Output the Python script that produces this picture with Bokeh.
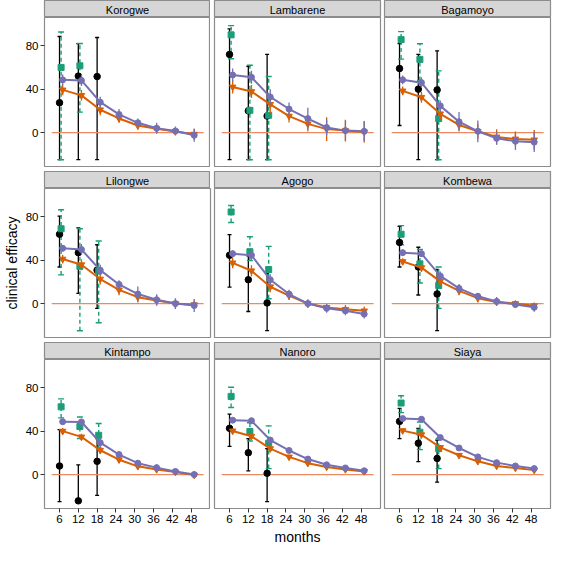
from bokeh.plotting import figure
from bokeh.layouts import gridplot
from bokeh.models import ColumnDataSource, Whisker, TeeHead, FixedTicker, Range1d
from bokeh.core.properties import value
from bokeh.embed import file_html
from bokeh.resources import INLINE

sites = ["Korogwe", "Lambarene", "Bagamoyo",
         "Lilongwe", "Agogo", "Kombewa",
         "Kintampo", "Nanoro", "Siaya"]

obs_months = [6, 12, 18]
trial_months = [6.5, 12.5, 18.5]
model_months = [7, 13, 19, 25, 31, 37, 43, 49]
x_ticks = [6, 12, 18, 24, 30, 36, 42, 48]
y_ticks = [0, 40, 80]

# observed efficacy (black)
obs_mid = {
    "Korogwe": [27.5, 52, 51.6], "Lambarene": [72, 20, 15.2], "Bagamoyo": [59, 40, 39.3],
    "Lilongwe": [63.9, 46.9, 30.8], "Agogo": [44.5, 22, 0.6], "Kombewa": [56.3, 33.7, 8.8],
    "Kintampo": [7.9, -24.2, 12.2], "Nanoro": [42.6, 20.1, 1.2], "Siaya": [49, 28.9, 14.9],
}
obs_lo = {
    "Korogwe": [-25, -25, -25], "Lambarene": [-25, -25, -25], "Bagamoyo": [6.5, -25, -25],
    "Lilongwe": [33.7, 9.4, -4.4], "Agogo": [15.2, -7.3, -25], "Kombewa": [33.7, 7.9, -25],
    "Kintampo": [-25, -25, -19.2], "Nanoro": [25.9, 3.5, -25], "Siaya": [33.2, 12, -7],
}
obs_hi = {
    "Korogwe": [88.5, 82, 87.6], "Lambarene": [95.5, 61, 72], "Bagamoyo": [82, 72, 75.3],
    "Lilongwe": [80.6, 69.7, 54.2], "Agogo": [63.6, 44, 27.8], "Kombewa": [71.2, 51.9, 31.4],
    "Kintampo": [41.4, 9, 33.2], "Nanoro": [55.7, 33.2, 23.9], "Siaya": [61, 42.6, 31.8],
}

# trial estimates (green, dashed); None where absent
trial_mid = {
    "Korogwe": [60, 61.5, None], "Lambarene": [90, 20.5, 16], "Bagamoyo": [85.6, 67.4, 12.9],
    "Lilongwe": [68.9, 34.3, 29.9], "Agogo": [84.4, 47.8, 31.4], "Kombewa": [63.9, 36.6, 16.7],
    "Kintampo": [62.4, 44.3, 36.2], "Nanoro": [72, 39.7, 28.9], "Siaya": [65.9, 39, 23.9],
}
trial_lo = {
    "Korogwe": [-25, 18.8, None], "Lambarene": [68, -25, -25], "Bagamoyo": [67.7, 48, -25],
    "Lilongwe": [26.4, -25, -17.6], "Agogo": [74.7, 39.6, 4.4], "Kombewa": [54.2, 19, -4.4],
    "Kintampo": [52.2, 33.2, 24.5], "Nanoro": [61.8, 30.9, 5.5], "Siaya": [57.1, 23, 5.5],
}
trial_hi = {
    "Korogwe": [92.6, 82, None], "Lambarene": [98.5, 62, 51.6], "Bagamoyo": [93, 81.8, 56.8],
    "Lilongwe": [86.4, 68.9, 57.7], "Agogo": [90.3, 61.5, 52.7], "Kombewa": [71.8, 49.8, 33.7],
    "Kintampo": [69.7, 53, 47], "Nanoro": [80.5, 47.8, 44.9], "Siaya": [72.6, 48.4, 33.2],
}

# model A (purple)
modA_mid = {
    "Korogwe": [48.6, 48, 28, 16.7, 9, 4, 1.5, -2.5],
    "Lambarene": [53, 51, 32.8, 21.7, 12.9, 4.7, 1.8, 1.2],
    "Bagamoyo": [48.6, 46, 24.6, 10, 1.2, -5.3, -8, -8.8],
    "Lilongwe": [51, 49.8, 30.8, 17.6, 8.8, 3.5, 0, -1.8],
    "Agogo": [46, 44.5, 22, 8.8, 0, -4.4, -6.7, -9.7],
    "Kombewa": [46.9, 46, 25.5, 14, 6.7, 2, -0.9, -3.5],
    "Kintampo": [48.7, 48.4, 29.4, 18.4, 10.5, 6.4, 2.9, 0],
    "Nanoro": [50.1, 49.6, 31.8, 22.2, 14.3, 9, 6.1, 3.5],
    "Siaya": [51.6, 51, 34.1, 24.5, 16.3, 11, 7.9, 5.5],
}
modA_err = {
    "Korogwe": [5, 5, 5, 5, 4, 5, 4, 6],
    "Lambarene": [6, 6, 7, 6, 10, 7, 9, 9],
    "Bagamoyo": [4, 5, 5, 9, 10, 6, 8, 9],
    "Lilongwe": [3, 5, 5, 4, 7, 5, 5, 6],
    "Agogo": [3, 5, 5, 4, 4, 4, 4, 4],
    "Kombewa": [3, 3, 4, 4, 3, 4, 3, 4],
    "Kintampo": [2, 3, 4, 3, 3, 3, 2, 3],
    "Nanoro": [2, 2, 2, 2, 2, 2, 2, 2],
    "Siaya": [2, 2, 2, 2, 2, 2, 2, 2],
}

# model B (orange)
modB_mid = {
    "Korogwe": [39.3, 34.3, 21, 13, 6.5, 3.5, 1, -1.5],
    "Lambarene": [42, 37.8, 26, 15.2, 8, 3.2, 1.8, 0.6],
    "Bagamoyo": [38.4, 32.5, 17.3, 7, 1.2, -4, -5.9, -6.7],
    "Lilongwe": [41, 35.8, 22.6, 12.6, 5.9, 2.9, 0, -1],
    "Agogo": [37.5, 30.2, 15.5, 7.3, 0, -3.5, -5.3, -6.7],
    "Kombewa": [38.7, 33.1, 20.5, 11.7, 5, 1.5, 0, -2],
    "Kintampo": [40, 34.7, 22.4, 13.7, 7.6, 4.7, 2.3, -0.5],
    "Nanoro": [40.2, 35.3, 23.9, 16.3, 10.5, 7, 4.7, 2.9],
    "Siaya": [40.5, 36.7, 25, 17.8, 12.2, 7.9, 6.1, 4.1],
}
modB_err = {
    "Korogwe": [5, 5, 5, 4, 4, 4, 3, 5],
    "Lambarene": [6, 6, 8, 6, 7, 11, 10, 10],
    "Bagamoyo": [4, 5, 5, 5, 7, 7, 7, 9],
    "Lilongwe": [4, 5, 5, 5, 5, 5, 4, 4],
    "Agogo": [5, 5, 5, 4, 3, 3, 4, 4],
    "Kombewa": [3, 4, 4, 4, 4, 3, 3, 3],
    "Kintampo": [3, 3, 3, 3, 3, 2, 2, 2],
    "Nanoro": [2, 2, 2, 2, 2, 2, 2, 2],
    "Siaya": [2, 2, 2, 2, 2, 2, 2, 2],
}

zero_line_x = [3.5, 52]

BLACK = "#000000"
GREEN = "#1B9E77"
ORANGE = "#D95F02"
PURPLE = "#7570B3"
ZERO = "#EE8A60"
BORDER = "#8C8C8C"
STRIP = "#D6D6D6"
FONT = "Liberation Sans"

FW, FH, SH = 166, 149, 17


def make_strip(site, col):
    s = figure(output_backend="svg", toolbar_location=None,
               frame_width=FW, frame_height=SH,
               x_range=Range1d(0, 1), y_range=Range1d(0, 1),
               x_axis_location=None, y_axis_location=None)
    s.min_border_left = 42 if col == 0 else 2
    s.min_border_right = 2
    s.min_border_top = 0
    s.min_border_bottom = 0
    s.background_fill_color = STRIP
    s.border_fill_color = "white"
    s.outline_line_color = BORDER
    s.outline_line_width = 1.2
    s.xgrid.visible = False
    s.ygrid.visible = False
    s.text(x=[0.5], y=[0.45], text=[site], text_align="center",
           text_baseline="middle", text_font=value(FONT),
           text_font_size="11px", text_color="black")
    return s


def make_panel(site, row, col):
    p = figure(output_backend="svg", toolbar_location=None,
               frame_width=FW, frame_height=FH,
               x_range=Range1d(1.2, 54.2), y_range=Range1d(-31.25, 106))
    p.min_border_left = 42 if col == 0 else 2
    p.min_border_right = 2
    p.min_border_top = 0
    p.min_border_bottom = 38 if row == 2 else 5
    p.background_fill_color = "white"
    p.border_fill_color = "white"
    p.outline_line_color = BORDER
    p.outline_line_width = 1.2
    p.xgrid.visible = False
    p.ygrid.visible = False

    for ax in (p.xaxis[0], p.yaxis[0]):
        ax.axis_line_color = None
        ax.minor_tick_line_color = None
        ax.major_tick_in = 0
        ax.major_tick_out = 4
        ax.major_tick_line_color = "#333333"
        ax.major_label_text_font = FONT
        ax.major_label_text_font_size = "11.5px"
        ax.major_label_text_color = "black"
        ax.major_label_standoff = 2
        ax.axis_label_text_font = FONT
        ax.axis_label_text_font_size = "14px"
        ax.axis_label_text_font_style = "normal"
        ax.axis_label_text_color = "black"
        ax.axis_label_standoff = 3
    p.xaxis.ticker = FixedTicker(ticks=x_ticks)
    p.yaxis.ticker = FixedTicker(ticks=y_ticks)
    if row != 2:
        p.xaxis.visible = False
    if col != 0:
        p.yaxis.visible = False
    if row == 2 and col == 1:
        p.xaxis.axis_label = "months"
    if row == 1 and col == 0:
        p.yaxis.axis_label = "clinical efficacy"

    # zero line
    p.line(zero_line_x, [0, 0], line_color=ZERO, line_width=1.2)

    # observed (black)
    src_o = ColumnDataSource(dict(x=obs_months, y=obs_mid[site],
                                  lo=obs_lo[site], hi=obs_hi[site]))
    p.add_layout(Whisker(base="x", lower="lo", upper="hi", source=src_o,
                         line_color=BLACK, line_width=1.3,
                         upper_head=TeeHead(size=4, line_color=BLACK, line_width=1.3),
                         lower_head=TeeHead(size=4, line_color=BLACK, line_width=1.3)))
    p.scatter("x", "y", source=src_o, marker="circle", size=6.5,
              fill_color=BLACK, line_color=BLACK)

    # trial (green, dashed)
    tx, ty, tl, th = [], [], [], []
    for xx, m, lo, hi in zip(trial_months, trial_mid[site], trial_lo[site], trial_hi[site]):
        if m is None:
            continue
        tx.append(xx); ty.append(m); tl.append(lo); th.append(hi)
    src_t = ColumnDataSource(dict(x=tx, y=ty, lo=tl, hi=th))
    p.add_layout(Whisker(base="x", lower="lo", upper="hi", source=src_t,
                         line_color=GREEN, line_width=1.4, line_dash="4 3",
                         upper_head=TeeHead(size=6, line_color=GREEN, line_width=1.4),
                         lower_head=TeeHead(size=6, line_color=GREEN, line_width=1.4)))
    p.scatter("x", "y", source=src_t, marker="square", size=6,
              fill_color=GREEN, line_color=GREEN)

    # model B (orange)
    bm = modB_mid[site]; be = modB_err[site]
    src_b = ColumnDataSource(dict(x=model_months, y=bm,
                                  lo=[m - e for m, e in zip(bm, be)],
                                  hi=[m + e for m, e in zip(bm, be)]))
    p.segment("x", "lo", "x", "hi", source=src_b, line_color=ORANGE, line_width=1.3)
    p.line("x", "y", source=src_b, line_color=ORANGE, line_width=2)
    p.scatter("x", "y", source=src_b, marker="inverted_triangle", size=6.5,
              fill_color=ORANGE, line_color=ORANGE)

    # model A (purple)
    am = modA_mid[site]; ae = modA_err[site]
    src_a = ColumnDataSource(dict(x=model_months, y=am,
                                  lo=[m - e for m, e in zip(am, ae)],
                                  hi=[m + e for m, e in zip(am, ae)]))
    p.segment("x", "lo", "x", "hi", source=src_a, line_color=PURPLE, line_width=1.3)
    p.line("x", "y", source=src_a, line_color=PURPLE, line_width=2)
    p.scatter("x", "y", source=src_a, marker="circle", size=6,
              fill_color=PURPLE, line_color=PURPLE)
    return p


rows = []
for r in range(3):
    rows.append([make_strip(sites[3 * r + c], c) for c in range(3)])
    rows.append([make_panel(sites[3 * r + c], r, c) for c in range(3)])

grid = gridplot(rows, toolbar_location=None)

open("out.html", "w").write(file_html(grid, INLINE))
